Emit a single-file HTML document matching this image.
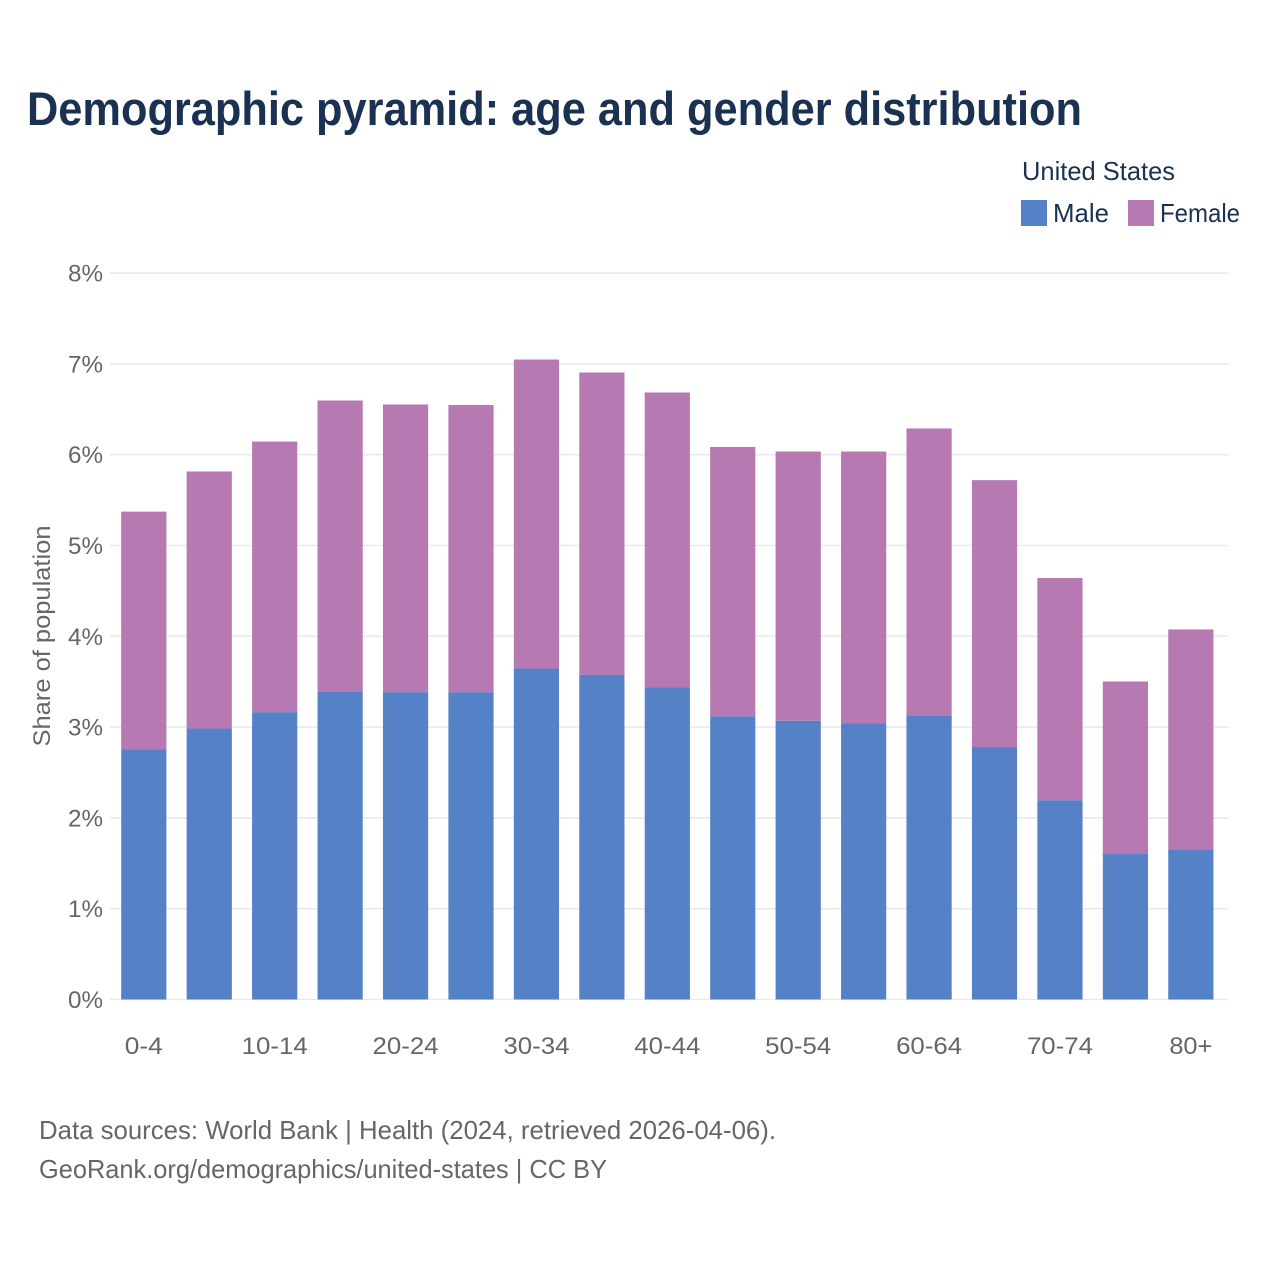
<!DOCTYPE html>
<html lang="en">
<head>
<meta charset="utf-8">
<title>Demographic pyramid</title>
<style>
html,body{margin:0;padding:0;background:#fff;}
svg{display:block;}
text{font-family:"Liberation Sans",sans-serif;}
</style>
</head>
<body>
<svg id="chart" xmlns="http://www.w3.org/2000/svg" width="1280" height="1280" viewBox="0 0 1280 1280">
  <rect width="1280" height="1280" fill="#ffffff"/>
  <text x="27" y="125" font-size="47" font-weight="700" fill="#1a3152" textLength="1055" lengthAdjust="spacingAndGlyphs">Demographic pyramid: age and gender distribution</text>
  <text x="1022" y="180" font-size="26" fill="#1a3152" textLength="153" lengthAdjust="spacingAndGlyphs">United States</text>
  <rect x="1021" y="200" width="26" height="26" fill="#5581c6"/>
  <text x="1053" y="222" font-size="26" fill="#1a3152" textLength="56" lengthAdjust="spacingAndGlyphs">Male</text>
  <rect x="1128" y="200" width="26" height="26" fill="#b679b2"/>
  <text x="1160" y="222" font-size="26" fill="#1a3152" textLength="80" lengthAdjust="spacingAndGlyphs">Female</text>
  <g id="grid"></g>
  <g id="y-axis"></g>
  <g id="bars"></g>
  <g id="x-axis"></g>
  <text transform="translate(50 636) rotate(-90)" text-anchor="middle" font-size="24" fill="#666666" textLength="221" lengthAdjust="spacingAndGlyphs">Share of population</text>
  <text x="39" y="1139" font-size="26" fill="#666666" textLength="737" lengthAdjust="spacingAndGlyphs">Data sources: World Bank | Health (2024, retrieved 2026-04-06).</text>
  <text x="39" y="1178" font-size="26" fill="#666666" textLength="568" lengthAdjust="spacingAndGlyphs">GeoRank.org/demographics/united-states | CC BY</text>
</svg>
<script>
const categories = ["0-4","5-9","10-14","15-19","20-24","25-29","30-34","35-39","40-44","45-49","50-54","55-59","60-64","65-69","70-74","75-79","80+"];
const maleValues = [2.753,2.985,3.165,3.395,3.385,3.385,3.645,3.575,3.436,3.12,3.07,3.04,3.13,2.78,2.195,1.61,1.655];
const femaleValues = [2.62,2.83,2.98,3.202,3.168,3.163,3.403,3.33,3.249,2.965,2.965,2.995,3.159,2.94,2.447,1.892,2.42];
const yTickValues = [0,1,2,3,4,5,6,7,8];
const xTickLabels = ["0-4","10-14","20-24","30-34","40-44","50-54","60-64","70-74","80+"];

const NS = "http://www.w3.org/2000/svg";
const yScale = v => 999.5 - v * 90.8;
const step = 65.44;
const xCenter = i => 143.8 + i * step;
const barWidth = 45.2;

function make(tag, attrs, parent, content) {
  const el = document.createElementNS(NS, tag);
  for (const k in attrs) el.setAttribute(k, attrs[k]);
  if (content !== undefined) el.textContent = content;
  parent.appendChild(el);
  return el;
}

const grid = document.getElementById("grid");
const yAxis = document.getElementById("y-axis");
yTickValues.forEach(v => {
  const line = make("line", {x1:110, x2:1228, y1:yScale(v), y2:yScale(v), stroke:"#eaeaee", "stroke-width":1.6}, grid);
  
  
  const label = make("text", {x:103, y:yScale(v)+8.5, "text-anchor":"end", "font-size":24, fill:"#666666", textLength:35, lengthAdjust:"spacingAndGlyphs"}, yAxis, v + "%");
  
  
});

const bars = document.getElementById("bars");
categories.forEach((c, i) => {
  const x = xCenter(i) - barWidth / 2;
  const m = maleValues[i], f = femaleValues[i];
  const rm = make("rect", {x:x, width:barWidth, y:yScale(m), height:yScale(0)-yScale(m), fill:"#5581c6"}, bars);
  
  
  const rf = make("rect", {x:x, width:barWidth, y:yScale(m+f), height:yScale(m)-yScale(m+f), fill:"#b679b2"}, bars);
  
  
});

const xAxis = document.getElementById("x-axis");
xTickLabels.forEach(t => {
  const i = categories.indexOf(t);
  const w = t.length === 3 && t !== "80+" ? 38 : (t === "80+" ? 43 : 66);
  const label = make("text", {x:xCenter(i), y:1054, "text-anchor":"middle", "font-size":24, fill:"#666666", textLength:w, lengthAdjust:"spacingAndGlyphs"}, xAxis, t);
  
  
});
</script>
</body>
</html>
